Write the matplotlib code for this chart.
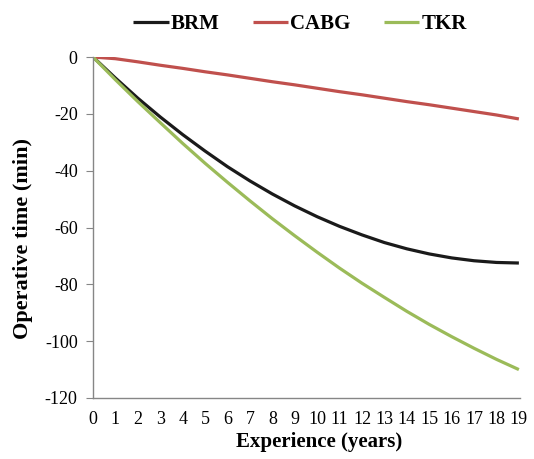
import numpy as np
import matplotlib
matplotlib.use("Agg")
import matplotlib.pyplot as plt

plt.rcParams['font.family'] = ['Liberation Serif', 'DejaVu Serif']
plt.rcParams['axes.unicode_minus'] = False

# data
years = list(range(20))
brm = [0, -7.4, -14.5, -21.1, -27.3, -33.1, -38.6, -43.6, -48.2, -52.4,
       -56.2, -59.6, -62.6, -65.3, -67.5, -69.3, -70.7, -71.7, -72.3, -72.5]
cabg = [0, -0.6, -1.7, -2.9, -4.0, -5.2, -6.3, -7.5, -8.7, -9.8,
        -11.0, -12.2, -13.3, -14.5, -15.7, -16.8, -18.0, -19.2, -20.4, -21.8]
tkr = [0, -8.0, -15.7, -23.1, -30.4, -37.4, -44.1, -50.6, -56.9, -62.9,
       -68.7, -74.3, -79.6, -84.6, -89.5, -94.1, -98.4, -102.5, -106.4, -110.0]
names = ['BRM', 'CABG', 'TKR']
colors = ['#1a1a1a', '#c0504d', '#9bbb59']

fig = plt.figure(figsize=(5.34, 4.59), dpi=100)
ax = fig.add_axes([93 / 534, 61 / 459, 427 / 534, 341 / 459])

for vals, name, c in zip([brm, cabg, tkr], names, colors):
    ax.plot(years, vals, color=c, lw=2.3, label=name, solid_capstyle='butt')

ax.set_xlim(0, 19.05)
ax.set_ylim(-120, 0)
ax.set_yticks(np.arange(-120, 1, 20))
ax.set_xticks(years)
ax.set_xticks(range(0, 19, 2), minor=True)
ax.tick_params(axis='x', which='major', length=0, labelsize=13, pad=9)
ax.tick_params(axis='x', which='minor', length=5, direction='out', color='#868686')
ax.tick_params(axis='y', length=5, direction='out', color='#868686', labelsize=13, pad=6)

for s in ['top', 'right']:
    ax.spines[s].set_visible(False)
for s in ['left', 'bottom']:
    ax.spines[s].set_color('#868686')
    ax.spines[s].set_linewidth(1)

ax.set_xlabel('Experience (years)', fontsize=15, fontweight='bold')
ax.set_ylabel('Operative time (min)', fontsize=16, fontweight='bold')
ax.xaxis.set_label_coords(0.53, -0.1)
ax.yaxis.set_label_coords(-0.14, 0.468)

fig.legend(loc='center', bbox_to_anchor=(300 / 534, 1 - 24 / 459), ncol=3,
           frameon=False, prop={'size': 15, 'weight': 'bold'},
           handlelength=1.7, handletextpad=0.1, columnspacing=1.6)

fig.savefig('out.png', dpi=100)
